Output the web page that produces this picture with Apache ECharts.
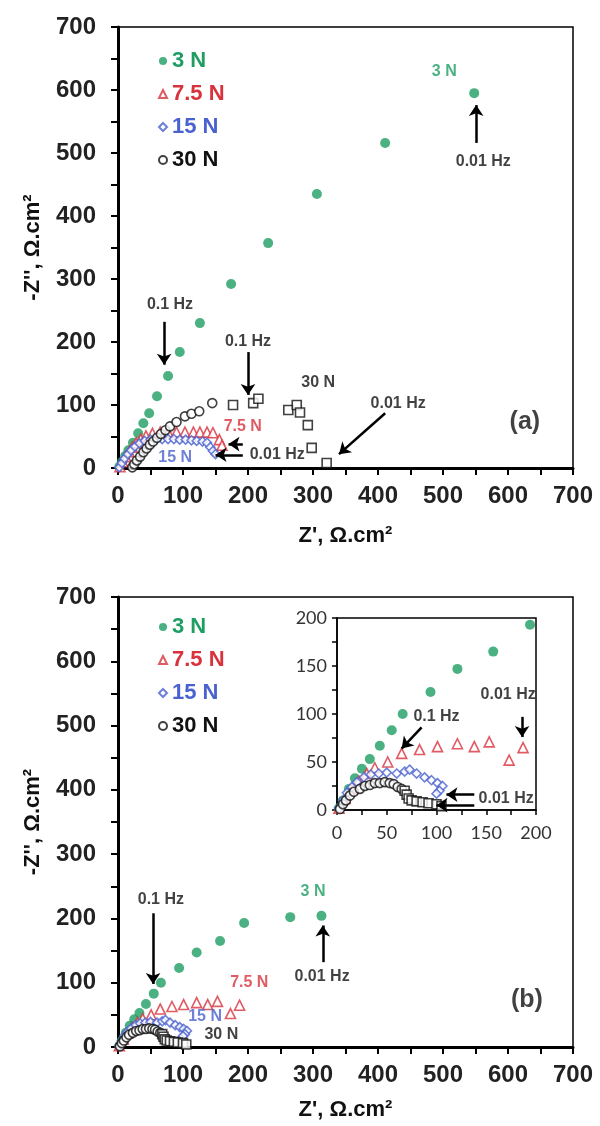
<!DOCTYPE html>
<html>
<head>
<meta charset="utf-8">
<script src="https://cdn.jsdelivr.net/npm/echarts@6/dist/echarts.min.js"></script>
<style>
  html, body { margin: 0; padding: 0; background: #fff; }
  #chart { width: 600px; height: 1126px; }
</style>
</head>
<body>
<div id="chart"></div>
<script>
// ---- data: [Z', -Z''] in Ω.cm² ----
// panel (a)
const a3N = [[2,2],[6,10],[11,19],[16,28],[23,40],[31,55],[39,71],[48,87],[60,114],[77,146],[95,184],[126,230],[174,292],[231,357],[306,435],[411,516],[548,595]];
const a75N = [[3,2],[7,10],[12,18],[17,26],[22,33],[28,40],[35,46],[43,51],[53,55],[65,57],[77,57],[90,57],[103,57],[116,57],[126,57],[137,57],[146,56],[156,45],[160,36]];
const a15N = [[2,1],[6,8],[10,15],[15,22],[20,28],[26,34],[33,39],[41,43],[50,45],[59,46],[68,46],[77,46],[86,46],[95,45],[104,45],[113,44],[121,43],[130,42],[137,40],[142,33],[146,27],[150,22]];
const a30N = [[22,1],[25,6],[29,12],[34,18],[39,25],[44,31],[49,37],[54,42],[60,48],[66,54],[73,60],[80,66],[90,73],[103,82],[113,86],[125,90],[145,103],[177,100],[208,103],[216,110],[262,92],[275,100],[280,88],[292,68],[298,32],[321,8]];
// panel (b) (also shown in the inset)
const b3N = [[2,2],[6,10],[12,22],[18,33],[25,43],[33,53],[43,67],[55,83],[66,100],[94,123],[121,147],[157,165],[194,193],[265,202],[313,204]];
const b75N = [[2,2],[8,12],[15,22],[22,30],[30,38],[38,44],[51,50],[65,59],[83,63],[101,66],[121,69],[138,66],[153,71],[173,52],[187,65]];
const b15N = [[2,2],[6,10],[10,18],[15,24],[20,29],[27,34],[34,37],[42,38],[50,39],[60,38],[68,40],[73,42],[80,38],[88,34],[95,31],[101,28],[106,25],[103,20],[100,17]];
const b30N = [[3,1],[6,6],[9,10],[13,15],[17,19],[23,22],[28,25],[33,26],[38,28],[43,28],[48,29],[53,28],[57,27],[61,24],[65,22],[68,20],[70,16],[72,12],[75,10],[80,9],[86,8],[92,7],[100,6],[105,4]];

const seriesNames = ['3 N', '7.5 N', '15 N', '30 N'];
const mainTicks = [0, 100, 200, 300, 400, 500, 600, 700];
const insetTicks = [0, 50, 100, 150, 200];

// annotations [x, y, text] and arrows [from, to], in data units
const annoA = [[502,629,'3 N'],[562,486,'0.01 Hz'],[80,259,'0.1 Hz'],[200,200,'0.1 Hz'],[308,135,'30 N'],[431,103,'0.01 Hz'],[192,65,'7.5 N'],[88,17,'15 N'],[245,21,'0.01 Hz'],[626,73,'(a)']];
const arrowsA = [[[551,516],[551,576]],[[71,232],[71,164]],[[200,184],[200,116]],[[411,87],[340,22]],[[192,21],[150,21]],[[192,38],[170,38]]];
const annoB = [[66,229,'0.1 Hz'],[300,241,'3 N'],[314,109,'0.01 Hz'],[202,100,'7.5 N'],[134,47,'15 N'],[159,19,'30 N'],[629,73,'(b)']];
const arrowsB = [[[54,208],[54,98]],[[315,132],[315,189]]];
const annoIn = [[100,97,'0.1 Hz'],[172,120,'0.01 Hz'],[170,12,'0.01 Hz']];
const arrowsIn = [[[85,86],[65,64]],[[186,97],[186,76]],[[138,16],[110,16]],[[138,5],[100,5]]];

const FONT = "'Liberation Sans', Arial, sans-serif";
const colors = { '3 N': '#1f9d63', '7.5 N': '#d8323c', '15 N': '#4a62cf', '30 N': '#111' };

const chart = echarts.init(document.getElementById('chart'));

function mainAxes(gi, isX, nameGap) {
  return {
    gridIndex: gi, type: 'value', min: mainTicks[0], max: mainTicks[mainTicks.length - 1], interval: mainTicks[1] - mainTicks[0],
    name: isX ? "Z', Ω.cm²" : "-Z'', Ω.cm²",
    nameLocation: 'middle', nameGap: nameGap,
    nameTextStyle: { fontSize: 22, fontWeight: 'bold', fontFamily: FONT, color: '#111' },
    axisLine: { show: true, onZero: false, lineStyle: { color: '#000', width: 3 } },
    axisTick: { show: true, length: 7, lineStyle: { color: '#000', width: 2 } },
    minorTick: { show: true, splitNumber: 2, length: 7, lineStyle: { color: '#000', width: 2 } },
    splitLine: { show: false },
    axisLabel: { fontSize: 24, fontWeight: 'bold', fontFamily: FONT, color: '#222', margin: isX ? 16 : 22 }
  };
}

function insetAxis(isX) {
  return {
    gridIndex: 2, type: 'value', min: insetTicks[0], max: insetTicks[insetTicks.length - 1], interval: insetTicks[1] - insetTicks[0],
    axisLine: { show: true, onZero: false, lineStyle: { color: '#000', width: 1.5 } },
    axisTick: { show: true, length: 5, lineStyle: { color: '#000', width: 1.5 } },
    minorTick: { show: true, splitNumber: 2, length: 5, lineStyle: { color: '#000', width: 1.5 } },
    splitLine: { show: false },
    axisLabel: { fontSize: 18, fontFamily: 'Lato, sans-serif', color: '#333', margin: isX ? 14 : 10 }
  };
}

function styleFor(name) {
  const c = colors[name];
  if (name === '3 N') return { symbol: 'circle', symbolSize: 10, itemStyle: { color: c } };
  if (name === '7.5 N') return { symbol: 'triangle', symbolSize: 10, itemStyle: { color: '#fff', borderColor: c, borderWidth: 1.6 } };
  if (name === '15 N') return { symbol: 'diamond', symbolSize: 9, itemStyle: { color: '#fff', borderColor: c, borderWidth: 1.6 } };
  return { symbol: 'circle', symbolSize: 9, itemStyle: { color: '#fff', borderColor: c, borderWidth: 1.6 } };
}

function dataSeries(name, data, gi, rectFrom) {
  const s = Object.assign({
    name: name, type: 'scatter', xAxisIndex: gi, yAxisIndex: gi,
    data: data, clip: true, silent: true, z: 4
  }, styleFor(name));
  if (rectFrom !== undefined) {
    s.symbol = (v, p) => (p.dataIndex >= rectFrom ? 'rect' : 'circle');
  }
  return s;
}

function annoSeries(gi, anno, arrows) {
  return {
    type: 'scatter', xAxisIndex: gi, yAxisIndex: gi, silent: true, clip: false,
    symbolSize: 1, itemStyle: { color: 'rgba(0,0,0,0)' }, z: 5,
    data: anno.map(([x, y, t]) => {
      const big = t.startsWith('(');
      return {
        value: [x, y], text: t,
        label: { color: colors[t] || '#111', fontSize: big ? 25 : 16 }
      };
    }),
    label: { show: true, position: 'inside', fontWeight: 'bold', fontFamily: FONT, formatter: p => p.data.text },
    markLine: {
      silent: true, symbol: ['none', 'arrow'], symbolSize: 11,
      lineStyle: { color: '#000', width: 2.5, type: 'solid', opacity: 1 },
      itemStyle: { color: '#000' },
      label: { show: false },
      data: arrows.map(([p, q]) => [{ coord: p }, { coord: q }])
    }
  };
}

function legendAt(top) {
  return {
    left: 153, top: top, orient: 'vertical', itemWidth: 8, itemHeight: 8, itemGap: 11,
    selectedMode: false,
    textStyle: { fontSize: 22, fontWeight: 'bold', fontFamily: FONT },
    data: seriesNames.map(n => ({ name: n, textStyle: { color: colors[n] } }))
  };
}

const option = {
  animation: false,
  backgroundColor: '#fff',
  grid: [
    { left: 118, top: 27, width: 455, height: 441, show: true, borderColor: '#000', borderWidth: 1.5 },
    { left: 118, top: 597, width: 455, height: 450, show: true, borderColor: '#000', borderWidth: 1.5 },
    { left: 337, top: 618, width: 199, height: 192, show: true, borderColor: '#000', borderWidth: 1.5 }
  ],
  xAxis: [mainAxes(0, true, 57), mainAxes(1, true, 52), insetAxis(true)],
  yAxis: [mainAxes(0, false, 74), mainAxes(1, false, 74), insetAxis(false)],
  legend: [legendAt(45), legendAt(611)],
  series: [
    dataSeries('3 N', a3N, 0), dataSeries('7.5 N', a75N, 0), dataSeries('15 N', a15N, 0), dataSeries('30 N', a30N, 0, 17),
    dataSeries('3 N', b3N, 1), dataSeries('7.5 N', b75N, 1), dataSeries('15 N', b15N, 1), dataSeries('30 N', b30N, 1, 15),
    dataSeries('3 N', b3N, 2), dataSeries('7.5 N', b75N, 2), dataSeries('15 N', b15N, 2), dataSeries('30 N', b30N, 2, 15),
    annoSeries(0, annoA, arrowsA), annoSeries(1, annoB, arrowsB), annoSeries(2, annoIn, arrowsIn)
  ]
};

chart.setOption(option);
</script>
</body>
</html>
